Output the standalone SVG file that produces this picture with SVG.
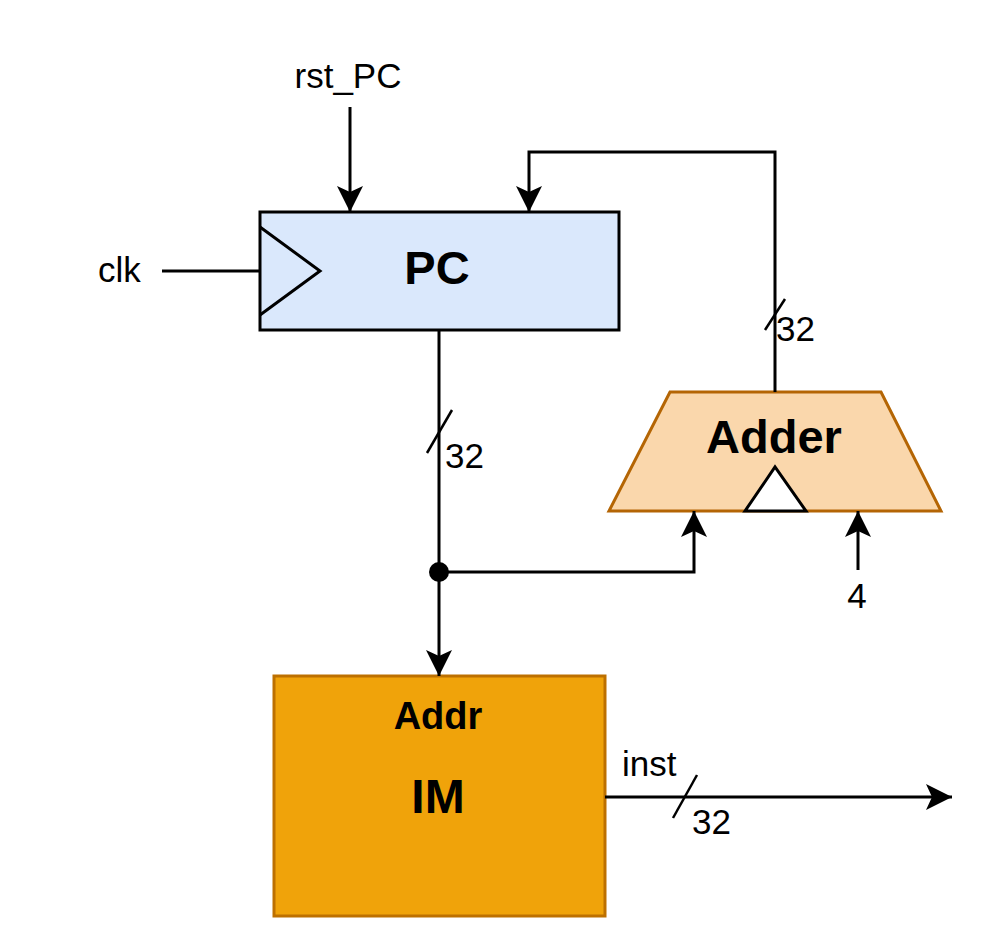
<svg xmlns="http://www.w3.org/2000/svg" width="1008" height="948" viewBox="0 0 1008 948">
<style>
.lbl{font-family:"Liberation Sans",Arial,sans-serif;font-size:35px;fill:#000}
.ttl{font-family:"Liberation Sans",Arial,sans-serif;font-weight:bold;fill:#000;text-anchor:middle}
.wire{fill:none;stroke:#000;stroke-width:3}
</style>
<defs>
<marker id="arr" markerUnits="userSpaceOnUse" viewBox="0 0 28 28" refX="27" refY="14" markerWidth="28" markerHeight="28" orient="auto">
<path d="M1,1 L27,14 L1,27 L7,14 Z" fill="#000"/>
</marker>
</defs>
<rect width="1008" height="948" fill="#fff"/>
<g id="pc">
<rect x="260" y="212" width="359" height="118" fill="#dae8fc" stroke="#000" stroke-width="3"/>
<polyline points="260,227 320,271 260,315" fill="none" stroke="#000" stroke-width="3"/>
<text class="ttl" x="437" y="284" font-size="47">PC</text>
</g>
<g id="adder">
<polygon points="670,392 881,392 941,511 609,511" fill="#fad7ac" stroke="#b46504" stroke-width="3"/>
<polygon points="745,511 775,467 806,511" fill="#fff" stroke="#000" stroke-width="3"/>
<text class="ttl" x="774" y="453" font-size="47">Adder</text>
</g>
<g id="im">
<rect x="274" y="676" width="331" height="240" fill="#f0a30a" stroke="#bd7000" stroke-width="3"/>
<text class="ttl" x="438" y="729" font-size="38">Addr</text>
<text class="ttl" x="438" y="813" font-size="48">IM</text>
</g>
<g id="labels">
<text class="lbl" x="348" y="88" text-anchor="middle">rst_PC</text>
<text class="lbl" x="98" y="282">clk</text>
<text class="lbl" x="857" y="608" text-anchor="middle">4</text>
<text class="lbl" x="622" y="776">inst</text>
</g>
<g id="connectors">
<line class="wire" x1="350" y1="107" x2="350" y2="212" marker-end="url(#arr)"/>
<line class="wire" x1="162" y1="271" x2="260" y2="271"/>
<polyline class="wire" points="775,392 775,152 529,152 529,212" marker-end="url(#arr)"/>
<line class="wire" x1="439" y1="330" x2="439" y2="676" marker-end="url(#arr)"/>
<polyline class="wire" points="439,572 694,572 694,511" marker-end="url(#arr)"/>
<line class="wire" x1="858" y1="570" x2="858" y2="511" marker-end="url(#arr)"/>
<line class="wire" x1="605" y1="797" x2="952" y2="797" marker-end="url(#arr)"/>
<circle cx="439" cy="572" r="10" fill="#000"/>
<line x1="427" y1="453" x2="452" y2="410" stroke="#000" stroke-width="2.5"/>
<text class="lbl" x="445" y="468">32</text>
<line x1="765" y1="330" x2="785" y2="299" stroke="#000" stroke-width="2.5"/>
<text class="lbl" x="776" y="341">32</text>
<line x1="673" y1="818" x2="697" y2="775" stroke="#000" stroke-width="2.5"/>
<text class="lbl" x="692" y="834">32</text>
</g>
</svg>
